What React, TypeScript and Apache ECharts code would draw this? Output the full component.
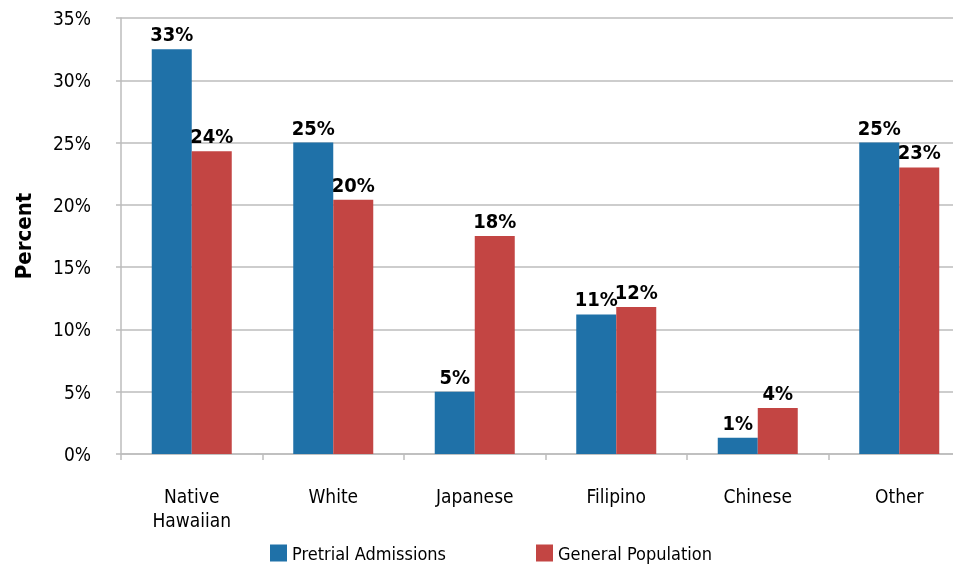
import React, { useEffect, useRef } from "react";
import * as echarts from "echarts";

const categories = ["Native\nHawaiian", "White", "Japanese", "Filipino", "Chinese", "Other"];
const pretrialAdmissions = [32.5, 25.0, 5.0, 11.2, 1.3, 25.0];
const generalPopulation = [24.3, 20.4, 17.5, 11.8, 3.7, 23.0];
const seriesNames = ["Pretrial Admissions", "General Population"];

const FONT = "'Liberation Sans Narrow', 'DejaVu Sans Condensed', 'Roboto Condensed', sans-serif";

export default function App() {
  const ref = useRef<HTMLDivElement>(null);
  useEffect(() => {
    document.body.style.overflow = "hidden";
    const chart = echarts.init(ref.current!, undefined, { renderer: "svg" });
    const labelCfg = {
      show: true,
      position: "top" as const,
      distance: 5,
      color: "#000",
      fontFamily: FONT,
      fontWeight: "bold" as const,
      fontSize: 20,
      formatter: (p: any) => Math.round(p.value) + "%",
    };
    const legendText = { fontFamily: FONT, fontSize: 18, color: "#000" };
    chart.setOption({
      animation: false,
      textStyle: { fontFamily: FONT },
      grid: { left: 121, right: 0, top: 18, bottom: 115, containLabel: false },
      legend: [
        {
          data: [seriesNames[0]],
          left: 270,
          top: 544,
          padding: 0,
          itemWidth: 17,
          itemHeight: 17,
          icon: "rect",
          textStyle: legendText,
        },
        {
          data: [seriesNames[1]],
          left: 536,
          top: 544,
          padding: 0,
          itemWidth: 17,
          itemHeight: 17,
          icon: "rect",
          textStyle: legendText,
        },
      ],
      xAxis: {
        type: "category",
        data: categories,
        axisLine: { lineStyle: { color: "#BDBDBD", width: 1.5 } },
        axisTick: { show: true, length: 6, lineStyle: { color: "#BDBDBD", width: 1.5 } },
        axisLabel: {
          color: "#000",
          fontFamily: FONT,
          fontSize: 19,
          lineHeight: 24,
          margin: 30,
          interval: 0,
        },
      },
      yAxis: {
        type: "value",
        min: 0,
        max: 35,
        interval: 5,
        name: "Percent",
        nameLocation: "middle",
        nameGap: 87,
        nameRotate: 90,
        nameTextStyle: { fontFamily: FONT, fontWeight: "bold", fontSize: 22, color: "#000" },
        axisLine: { show: true, lineStyle: { color: "#BDBDBD", width: 1.5 } },
        axisTick: { show: true, length: 5, lineStyle: { color: "#BDBDBD", width: 1.5 } },
        splitLine: { lineStyle: { color: "#BDBDBD", width: 1.5 } },
        axisLabel: {
          color: "#000",
          fontFamily: FONT,
          fontSize: 19,
          margin: 30,
          formatter: (v: number) => v + "%",
        },
      },
      series: [
        {
          name: seriesNames[0],
          type: "bar",
          data: pretrialAdmissions,
          barWidth: 40,
          barGap: "0%",
          itemStyle: { color: "#1F71A8" },
          label: labelCfg,
        },
        {
          name: seriesNames[1],
          type: "bar",
          data: generalPopulation,
          barWidth: 40,
          barGap: "0%",
          itemStyle: { color: "#C34543" },
          label: labelCfg,
        },
      ],
    });
    return () => chart.dispose();
  }, []);
  return (
    <div
      ref={ref}
      style={{ position: "fixed", left: 0, top: 0, width: 970, height: 569 }}
    />
  );
}
